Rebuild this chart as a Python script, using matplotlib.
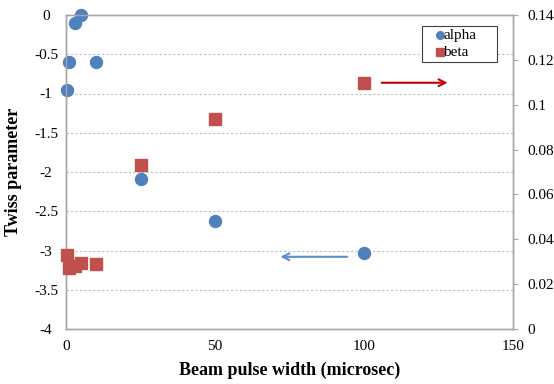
import matplotlib
matplotlib.use("Agg")
import matplotlib.pyplot as plt
from matplotlib.patches import Rectangle

plt.rcParams['font.family'] = ['Liberation Serif', 'DejaVu Serif']

# Beam pulse width (microsec)
pulse_width = [0.5, 1, 3, 5, 10, 25, 50, 100]
# Twiss alpha (left axis) and beta (right axis)
alpha = [-0.95, -0.6, -0.1, 0.0, -0.6, -2.09, -2.62, -3.03]
beta = [0.033, 0.027, 0.028, 0.0296, 0.029, 0.0731, 0.0936, 0.1098]

x_ticks = [0, 50, 100, 150]
left_ticks = [0, -0.5, -1, -1.5, -2, -2.5, -3, -3.5, -4]
left_tick_labels = ['0', '-0.5', '-1', '-1.5', '-2', '-2.5', '-3', '-3.5', '-4']
right_ticks = [0, 0.02, 0.04, 0.06, 0.08, 0.1, 0.12, 0.14]
right_tick_labels = ['0', '0.02', '0.04', '0.06', '0.08', '0.1', '0.12', '0.14']
series_names = ['alpha', 'beta']

blue = '#4F81BD'
red = '#C0504D'
spine_col = '#A6A6A6'

W, H = 554, 384
L, R, T, B = 66, 513, 15, 329

fig = plt.figure(figsize=(W / 100, H / 100), dpi=100)
ax = fig.add_axes([L / W, 1 - B / H, (R - L) / W, (B - T) / H])
ax2 = ax.twinx()

ax.set_xlim(0, 150)
ax.set_ylim(-4, 0)
ax2.set_ylim(0, 0.14)

# dashed horizontal gridlines from the left axis
for v in left_ticks[1:-1]:
    ax.axhline(v, color='#BFBFBF', lw=0.8, ls=(0, (2, 2)), zorder=0)

ax.plot(pulse_width, alpha, 'o', color=blue, ms=8.6, mec=blue, zorder=3,
        clip_on=False)
ax2.plot(pulse_width, beta, 's', color=red, ms=8.6, mec=red, zorder=3,
         clip_on=False)

ax.set_xticks(x_ticks)
ax.set_xticklabels([str(t) for t in x_ticks], fontsize=11)
ax.set_yticks(left_ticks)
ax.set_yticklabels(left_tick_labels, fontsize=11, ha='center')
ax2.set_yticks(right_ticks)
ax2.set_yticklabels(right_tick_labels, fontsize=11)

ax.tick_params(axis='y', length=0, pad=14.4)
ax.tick_params(axis='x', length=0, pad=8)
ax2.tick_params(axis='y', length=3.8, width=0.8, color=spine_col, pad=6.3)

for a in (ax, ax2):
    for s in a.spines.values():
        s.set_color(spine_col)
        s.set_linewidth(1.0)

ax.set_xlabel('Beam pulse width (microsec)', fontsize=13, fontweight='bold')
ax.set_ylabel('Twiss parameter', fontsize=13, fontweight='bold')
ax.xaxis.set_label_coords(0.5, -(370 - B) / (B - T))
ax.xaxis.label.set_va('center')
ax.yaxis.set_label_coords(-(L - 14) / (R - L), 0.5)
ax.yaxis.label.set_va('center')

# arrows pointing to the axis each series belongs to
ax2.annotate('', xy=(129, beta[-1]), xytext=(105, beta[-1]),
             arrowprops=dict(arrowstyle='->', color='#C00000', lw=1.5,
                             mutation_scale=12))
ax.annotate('', xy=(71, -3.08), xytext=(95.3, -3.08),
            arrowprops=dict(arrowstyle='->', color='#5B8FD0', lw=1.5,
                            mutation_scale=12))

# legend box
def fx(px):
    return (px - L) / (R - L)

def fy(py):
    return (B - py) / (B - T)

ax2.add_patch(Rectangle((fx(422), fy(62)), fx(497) - fx(422), fy(26) - fy(62),
                        transform=ax2.transAxes, facecolor='white',
                        edgecolor='#404040', lw=0.8, zorder=5))
for name, mk, col, py in [(series_names[0], 'o', blue, 35),
                          (series_names[1], 's', red, 52.3)]:
    ax2.plot([fx(440)], [fy(py)], marker=mk, color=col, ms=5.5, ls='none',
             transform=ax2.transAxes, zorder=6, clip_on=False)
    ax2.text(fx(443.5), fy(py), name, transform=ax2.transAxes, fontsize=11,
             ha='left', va='center', zorder=6)

fig.savefig('out.png', dpi=100)
